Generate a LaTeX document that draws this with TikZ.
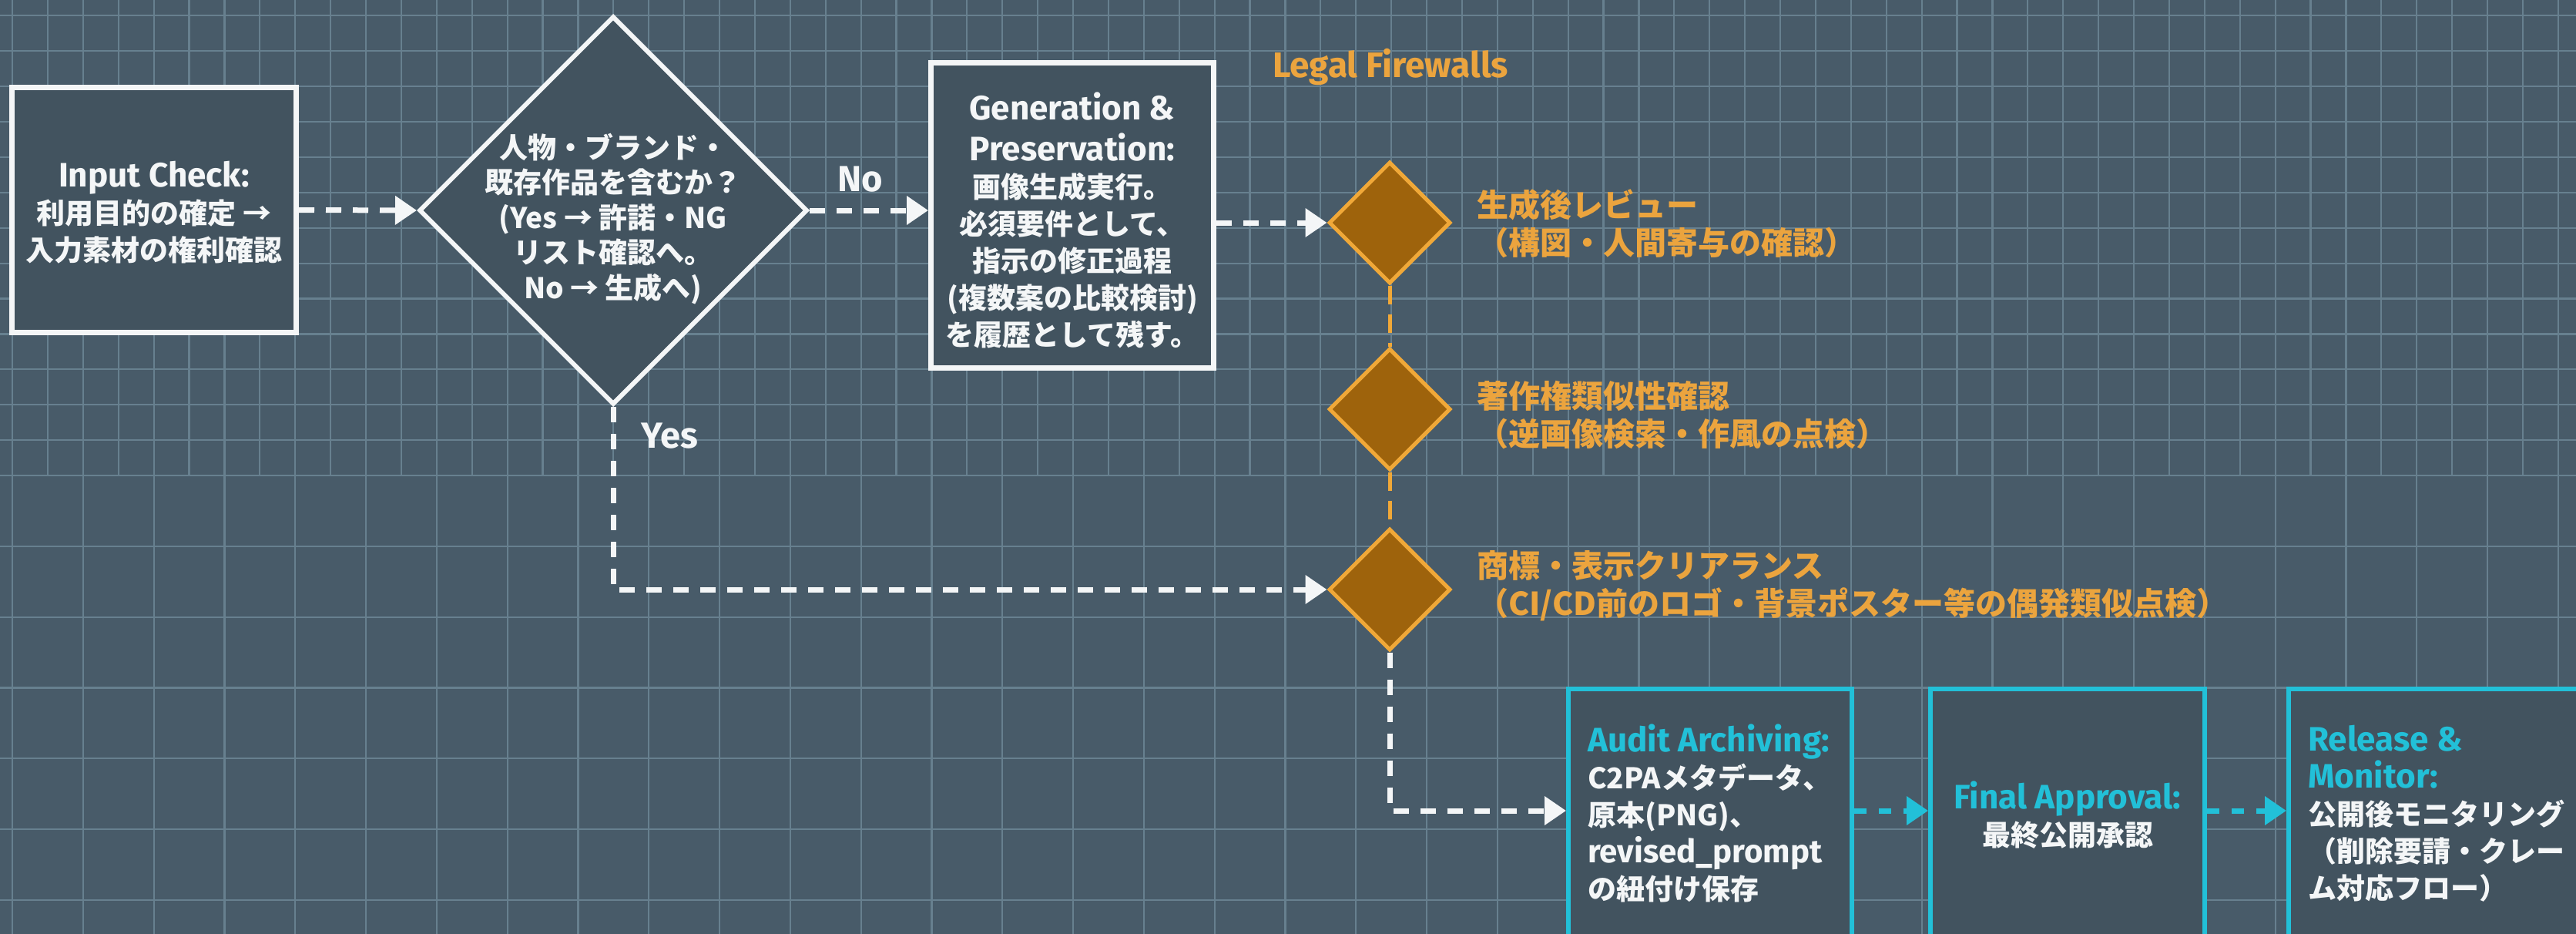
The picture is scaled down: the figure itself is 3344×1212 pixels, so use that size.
\documentclass[tikz,border=0pt]{standalone}
\usepackage{fontspec}
\setmainfont{Fira Sans}
\newfontfamily\jp{Noto Sans CJK JP}
\usetikzlibrary{arrows.meta,shapes.geometric}
\definecolor{bg}{HTML}{485B69}
\definecolor{gridc}{HTML}{67808F}
\definecolor{boxfill}{HTML}{42535F}
\definecolor{wht}{HTML}{F4F6F7}
\definecolor{org}{HTML}{F0A838}
\definecolor{orgfill}{HTML}{9E630C}
\definecolor{orgtxt}{HTML}{EBA43E}
\definecolor{cyn}{HTML}{22C0D8}
\newcommand\jpw{\fontsize{37}{48}\jp\bfseries}
\newcommand\jpo{\fontsize{41}{49}\jp\bfseries}
\newcommand\hdr{\fontsize{44}{48}\selectfont\bfseries}
\begin{document}
\begin{tikzpicture}[x=1pt,y=-1pt,
  gridline/.style={draw=gridc, line width=2.2pt},
  whitebox/.style={rectangle, draw=wht, line width=7pt, fill=boxfill, inner sep=0pt},
  cyanbox/.style={rectangle, draw=cyn, line width=6pt, fill=boxfill, inner sep=0pt},
  qdiam/.style={diamond, aspect=1, draw=wht, line width=6pt, fill=boxfill, inner sep=0pt},
  odiam/.style={diamond, aspect=1, draw=org, line width=5pt, fill=orgfill, inner sep=0pt, minimum width=158pt, minimum height=158pt},
  txt/.style={inner sep=0pt, text=wht, font=\fontsize{37}{48}\selectfont},
  otxt/.style={inner sep=0pt, text=orgtxt, font=\fontsize{41}{49}\selectfont, anchor=west, align=left},
  lbl/.style={inner sep=0pt, text=wht, font=\fontsize{47}{50}\selectfont\bfseries},
  wline/.style={draw=wht, line width=7pt, dash pattern=on 20pt off 15pt, -{Triangle[length=28pt,width=36pt]}},
  oline/.style={draw=org, line width=5pt, dash pattern=on 24pt off 13pt},
  cline/.style={draw=cyn, line width=7pt, dash pattern=on 16pt off 16pt, -{Triangle[length=28pt,width=36pt]}}
]
\useasboundingbox (0,0) rectangle (3344,1212);
\clip (0,0) rectangle (3344,1212);
\fill[bg] (0,0) rectangle (3344,1212);
% grid: fine upper part, coarse lower part
\foreach \i in {0,...,72} \draw[gridline] ({16+45.9*\i},0) -- ({16+45.9*\i},617);
\foreach \i in {0,...,13} \draw[gridline] (0,{617-45.9*\i}) -- (3344,{617-45.9*\i});
\foreach \i in {0,...,36} \draw[gridline] ({16+91.8*\i},617) -- ({16+91.8*\i},1212);
\foreach \i in {1,...,6} \draw[gridline] (0,{617+91.8*\i}) -- (3344,{617+91.8*\i});

% shapes
\node[whitebox, minimum width=369pt, minimum height=318pt] (in) at (200,272.5) {};
\node[qdiam, minimum width=504pt, minimum height=504pt] (q) at (796,273) {};
\node[whitebox, minimum width=367pt, minimum height=396pt] (gen) at (1392,279.5) {};
\node[odiam] (d1) at (1804,289) {};
\node[odiam] (d2) at (1804,531) {};
\node[odiam] (d3) at (1804,765) {};
\node[cyanbox, minimum width=368pt, minimum height=406pt] (audit) at (2220,1097) {};
\node[cyanbox, minimum width=356pt, minimum height=406pt] (final) at (2684,1097) {};
\node[cyanbox, minimum width=420pt, minimum height=406pt] (rel) at (3181,1097) {};
\coordinate (row) at (0,1052);

% texts
\node[txt, align=center] (in-t) at (200,276) {{\hdr Input Check:}\\{\jpw 利用目的の確定 →}\\{\jpw 入力素材の権利確認}};
\node[txt, align=center, font=\fontsize{37}{45.5}\selectfont] (q-t) at (796,284) {{\jpw 人物・ブランド・}\\{\jpw 既存作品を含むか？}\\{\jpw (Yes → 許諾・NG}\\{\jpw リスト確認へ。}\\{\jpw No → 生成へ)}};
\node[txt, align=center] (gen-t) at (1392,286) {{\hdr Generation \&}\\[5pt]{\hdr Preservation:}\\{\jpw 画像生成実行。}\\{\jpw 必須要件として、}\\{\jpw 指示の修正過程}\\{\jpw (複数案の比較検討)}\\{\jpw を履歴として残す。}};
\node[inner sep=0pt, text=orgtxt, font=\fontsize{46}{50}\selectfont\bfseries] (lf) at (1805,87) {Legal Firewalls};
\node[otxt] (d1-t) at (1917,290) {{\jpo 生成後レビュー}\\{\jpo （構図・人間寄与の確認）}};
\node[otxt] (d2-t) at (1917,538) {{\jpo 著作権類似性確認}\\{\jpo （逆画像検索・作風の点検）}};
\node[otxt] (d3-t) at (1917,760) {{\jpo 商標・表示クリアランス}\\{\jpo （CI/CD前のロゴ・背景ポスター等の偶発類似点検）}};
\node[txt, anchor=west, align=left] (audit-t) at (2061,1055) {{\hdr\color{cyn}Audit Archiving:}\\{\jpw C2PAメタデータ、}\\{\jpw 原本(PNG)、}\\{\fontsize{42}{48}\selectfont\bfseries revised\_prompt}\\{\jpw の紐付け保存}};
\node[txt, align=center] (final-t) at (2684,1058) {{\hdr\color{cyn}Final Approval:}\\{\jpw 最終公開承認}};
\node[txt, anchor=west, align=left] (rel-t) at (2996,1056) {{\hdr\color{cyn}Release \&}\\{\hdr\color{cyn}Monitor:}\\{\jpw 公開後モニタリング}\\{\jpw （削除要請・クレー}\\{\jpw ム対応フロー）}};
\node[lbl] (no) at (1117,233) {No};
\node[lbl] (yes) at (869,566) {Yes};

% connectors
\draw[wline] (in.east) -- (q.west);
\draw[wline] (q.east) -- (q.east -| gen.west);
\draw[wline] (gen.east |- d1) -- (d1.west);
\draw[wline] (q.south) |- (d3.west);
\draw[wline] (d3.south) |- (audit.west |- row);
\draw[oline] (d1.south) -- (d2.north);
\draw[oline] (d2.south) -- (d3.north);
\draw[cline] (audit.east |- row) -- (final.west |- row);
\draw[cline] (final.east |- row) -- (rel.west |- row);
\end{tikzpicture}
\end{document}
